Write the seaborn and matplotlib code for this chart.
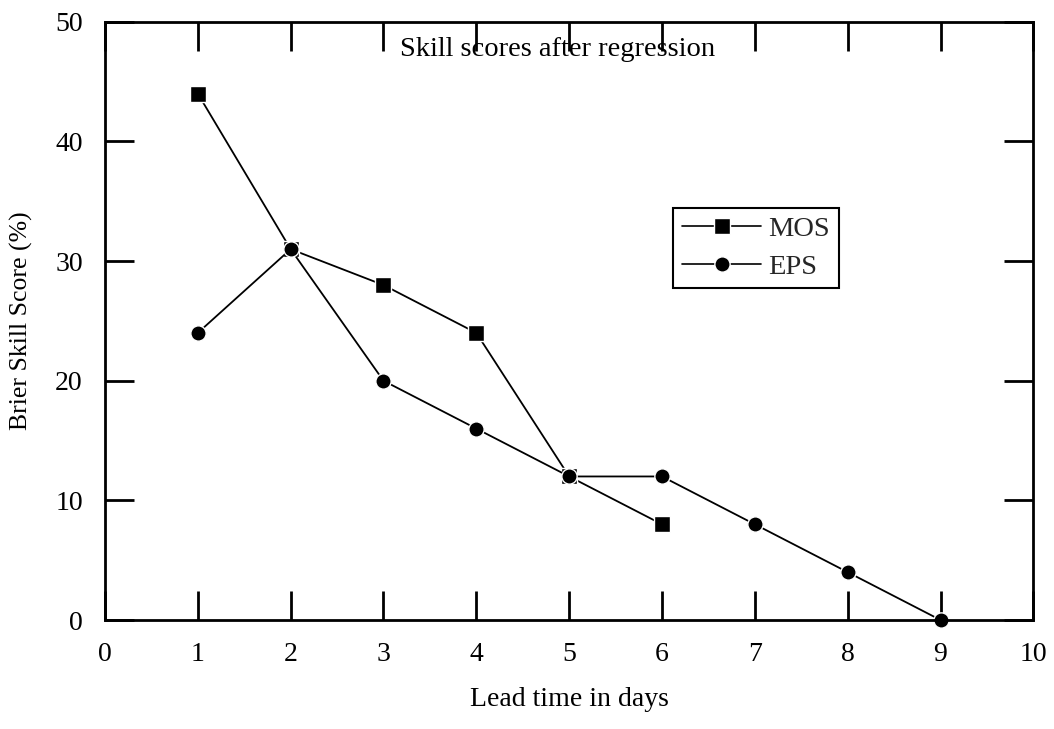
import matplotlib
matplotlib.use("Agg")
import matplotlib.pyplot as plt
import seaborn as sns
import pandas as pd
from matplotlib.lines import Line2D

# Brier skill scores by lead time
mos_days = [1, 2, 3, 4, 5, 6]
mos_bss = [44, 31, 28, 24, 12, 8]
eps_days = [1, 2, 3, 4, 5, 6, 7, 8, 9]
eps_bss = [24, 31, 20, 16, 12, 12, 8, 4, 0]
x_ticks = list(range(0, 11))
y_ticks = [0, 10, 20, 30, 40, 50]

df = pd.concat([
    pd.DataFrame({"day": mos_days, "bss": mos_bss, "model": "MOS"}),
    pd.DataFrame({"day": eps_days, "bss": eps_bss, "model": "EPS"}),
], ignore_index=True)

sns.set_theme(style="white")
plt.rcParams["font.family"] = ["Liberation Serif", "DejaVu Serif"]

fig = plt.figure(figsize=(10.54, 7.29), dpi=100)
ax = fig.add_axes([0.0996, 0.1495, 0.8808, 0.8205])

sns.lineplot(data=df, x="day", y="bss", hue="model", style="model",
             markers={"MOS": "s", "EPS": "o"}, dashes=False,
             palette={"MOS": "black", "EPS": "black"},
             linewidth=1.3, markersize=11, markeredgecolor="white",
             markeredgewidth=1.0, legend=False, ax=ax, clip_on=False)

ax.set_xlim(0, 10)
ax.set_ylim(0, 50)
ax.set_xticks(x_ticks)
ax.set_yticks(y_ticks)
ax.tick_params(direction="in", length=21, width=2, color="black",
               labelsize=20, top=True, right=True, bottom=True, left=True,
               pad=16, labelcolor="black")
for s in ax.spines.values():
    s.set_visible(True)
    s.set_color("black")
    s.set_linewidth(2)

ax.set_xlabel("Lead time in days", fontsize=20, labelpad=14, color="black")
ax.set_ylabel("Brier Skill Score (%)", fontsize=18.5, labelpad=16, color="black")
ax.text(0.487, 0.953, "Skill scores after regression", transform=ax.transAxes,
        ha="center", va="center", fontsize=20.5, color="black")

handles = [
    Line2D([], [], color="black", lw=1.2, marker="s", markersize=11,
           markeredgecolor="white", markeredgewidth=1.0, label="MOS"),
    Line2D([], [], color="black", lw=1.2, marker="o", markersize=11,
           markeredgecolor="white", markeredgewidth=1.0, label="EPS"),
]
leg = ax.legend(handles=handles, loc="upper left",
                bbox_to_anchor=(0.612, 0.689), fontsize=20.5, frameon=True,
                fancybox=False, framealpha=1, edgecolor="black",
                handlelength=2.8, handletextpad=0.25, borderpad=0.3,
                labelspacing=0.4, borderaxespad=0)
leg.get_frame().set_linewidth(1.5)

fig.savefig("out.png", dpi=100, facecolor="white")
